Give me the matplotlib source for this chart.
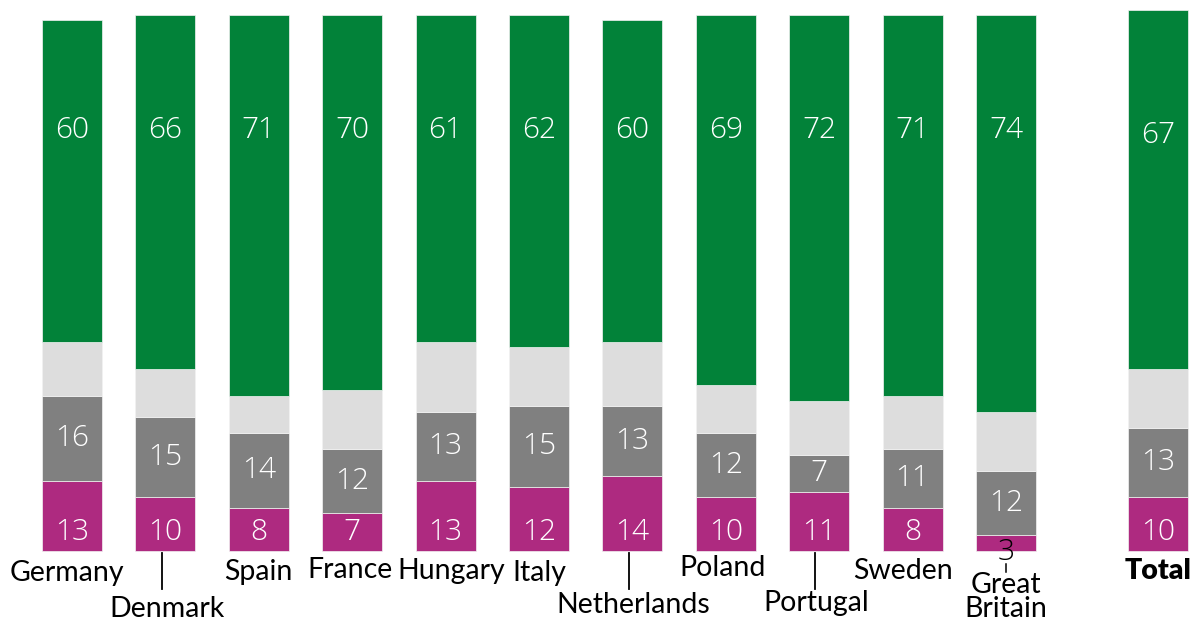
import matplotlib
matplotlib.use("Agg")
import matplotlib.pyplot as plt

countries = ["Germany", "Denmark", "Spain", "France", "Hungary", "Italy",
             "Netherlands", "Poland", "Portugal", "Sweden", "Great\nBritain", "Total"]
magenta = [13, 10, 8, 7, 13, 12, 14, 10, 11, 8, 3, 10]
gray = [16, 15, 14, 12, 13, 15, 13, 12, 7, 11, 12, 13]
light = [10, 9, 7, 11, 13, 11, 12, 9, 10, 10, 11, 11]
green = [60, 66, 71, 70, 61, 62, 60, 69, 72, 71, 74, 67]

positions = [0, 1, 2, 3, 4, 5, 6, 7, 8, 9, 10, 11.63]

C_MAG = "#AE2A80"
C_GRAY = "#808080"
C_LIGHT = "#DDDDDD"
C_GREEN = "#028239"

px = 5.36  # pixels per percentage point
fig = plt.figure(figsize=(11.97, 6.26), dpi=100)
ax = fig.add_axes([0, 0, 1, 1])
ax.set_ylim(-(626 - 551) / px, 551 / px)
ax.set_xlim(-72 / 93.4, (1197 - 72) / 93.4)
ax.axis("off")

w = 0.642
bottoms = [0] * len(positions)
for vals, col in [(magenta, C_MAG), (gray, C_GRAY), (light, C_LIGHT), (green, C_GREEN)]:
    ax.bar(positions, vals, width=w, bottom=bottoms, color=col,
           edgecolor="#f2f2f2", linewidth=0.5)
    bottoms = [b + v for b, v in zip(bottoms, vals)]

num_font = ["Open Sans", "DejaVu Sans"]
lab_font = ["Lato", "DejaVu Sans"]
NS = 21.5

for i, x in enumerate(positions):
    gy = 77.6 if countries[i] == "Total" else 78.5
    ax.text(x, gy, str(green[i]), ha="center", va="center", color="white",
            fontsize=NS, family=num_font, fontweight="light")
    ax.text(x, magenta[i] + gray[i] / 2, str(gray[i]), ha="center", va="center",
            color="white", fontsize=NS, family=num_font, fontweight="light")
    if magenta[i] >= 5:
        ax.text(x, 3.5, str(magenta[i]), ha="center", va="center", color="white",
                fontsize=NS, family=num_font, fontweight="light")
    else:
        ax.text(x, -0.2, str(magenta[i]), ha="center", va="center", color="black",
                fontsize=NS, family=num_font, fontweight="light")

label_y = {
    "Germany": 573, "Denmark": 609, "Spain": 572, "France": 570, "Hungary": 571,
    "Italy": 573, "Netherlands": 605, "Poland": 568, "Portugal": 603,
    "Sweden": 571, "Great\nBritain": 597, "Total": 571,
}
label_dx = {"Germany": -0.05, "Denmark": 0.02, "Spain": 0.0, "France": -0.02,
            "Hungary": 0.06, "Italy": 0.0, "Netherlands": 0.01, "Poland": -0.04,
            "Portugal": -0.03, "Sweden": -0.1, "Great\nBritain": 0.0, "Total": 0.0}
long_lines = {"Denmark", "Netherlands", "Portugal"}
for i, name in enumerate(countries):
    x = positions[i]
    y = (551 - label_y[name]) / px
    ax.text(x + label_dx[name], y, name, ha="center", va="center",
            fontsize=20.5, family=lab_font, color="black",
            fontweight="heavy" if name == "Total" else "normal",
            linespacing=0.9)
    if name in long_lines:
        ax.plot([x - 0.04, x - 0.04], [(551 - 553) / px, (551 - 589) / px],
                color="black", lw=1.3)
    if name == "Great\nBritain":
        ax.plot([x, x], [(551 - 564) / px, (551 - 572) / px],
                color="black", lw=1.1)

fig.savefig("out.png", dpi=100, facecolor="white")
